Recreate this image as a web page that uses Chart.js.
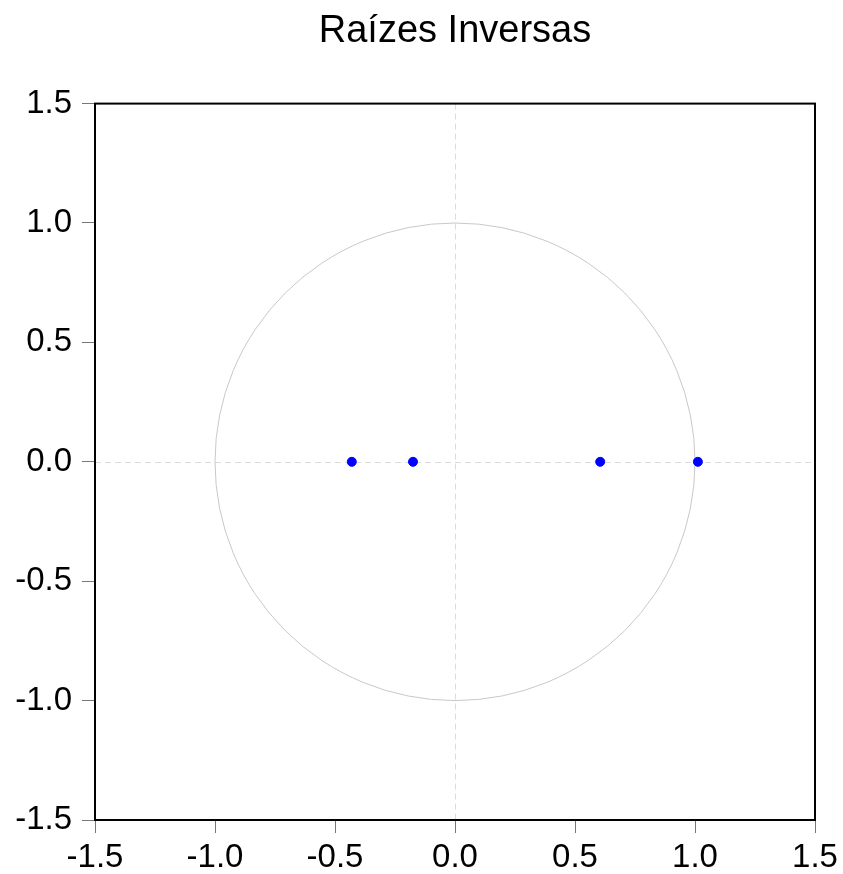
<!DOCTYPE html>
<html>
<head>
<meta charset="utf-8">
<script src="https://cdn.jsdelivr.net/npm/chart.js@4/dist/chart.umd.min.js"></script>
<style>
  body { margin: 0; background: #fff; }
  #wrap { width: 843px; height: 874px; }
</style>
</head>
<body>
<div id="wrap"><canvas id="rootsChart"></canvas></div>
<script>
  // inverse roots (real, imaginary)
  const rootsReal = [-0.43, -0.175, 0.605, 1.012];
  const rootsImag = [0, 0, 0, 0];
  const tickValues = [-1.5, -1.0, -0.5, 0.0, 0.5, 1.0, 1.5];
  const unitRadius = [1];

  const fontFamily = '"Liberation Sans", Arial, sans-serif';

  // unit circle, zero lines and frame
  const decorPlugin = {
    id: 'decor',
    beforeDatasetsDraw(chart) {
      const ctx = chart.ctx;
      const xs = chart.scales.x, ys = chart.scales.y;
      const area = chart.chartArea;
      const cx = xs.getPixelForValue(0), cy = ys.getPixelForValue(0);

      ctx.save();
      ctx.strokeStyle = '#dcdcdc';
      ctx.lineWidth = 1;
      ctx.setLineDash([6, 4]);
      ctx.beginPath();
      ctx.moveTo(Math.round(cx) + 0.5, area.top);
      ctx.lineTo(Math.round(cx) + 0.5, area.bottom);
      ctx.moveTo(area.left, Math.round(cy) + 0.5);
      ctx.lineTo(area.right, Math.round(cy) + 0.5);
      ctx.stroke();
      ctx.setLineDash([]);

      unitRadius.forEach(r => {
        const rx = xs.getPixelForValue(r) - cx;
        const ry = cy - ys.getPixelForValue(r);
        ctx.strokeStyle = '#c8c8c8';
        ctx.beginPath();
        ctx.ellipse(cx, cy, rx, ry, 0, 0, Math.PI * 2);
        ctx.stroke();
      });
      ctx.restore();
    },
    afterDraw(chart) {
      const ctx = chart.ctx;
      const a = chart.chartArea;
      ctx.save();
      ctx.strokeStyle = '#000';
      ctx.lineWidth = 2;
      ctx.strokeRect(a.left, a.top, a.right - a.left, a.bottom - a.top);
      ctx.restore();
    }
  };

  const axisCommon = {
    type: 'linear',
    min: -1.5,
    max: 1.5,
    border: { display: false },
    grid: {
      drawOnChartArea: false,
      drawTicks: true,
      tickLength: 13,
      tickColor: '#777',
      tickWidth: 1
    },
    afterBuildTicks(scale) {
      scale.ticks = tickValues.map(v => ({ value: v }));
    }
  };

  new Chart(document.getElementById('rootsChart'), {
    type: 'scatter',
    data: {
      datasets: [{
        data: rootsReal.map((x, i) => ({ x: x, y: rootsImag[i] })),
        backgroundColor: '#0000ff',
        borderColor: '#0000ff',
        pointRadius: 4.5,
        pointHoverRadius: 4.5
      }]
    },
    options: {
      responsive: true,
      maintainAspectRatio: false,
      animation: false,
      layout: { padding: { left: 0, right: 28, bottom: 0, top: 0 } },
      plugins: {
        legend: { display: false },
        tooltip: { enabled: false },
        title: {
          display: true,
          fullSize: false,
          text: 'Raízes Inversas',
          color: '#000',
          font: { family: fontFamily, size: 38, weight: 'normal', lineHeight: 1.2 },
          padding: { top: 9, bottom: 49 }
        }
      },
      scales: {
        x: Object.assign({}, axisCommon, {
          position: 'bottom',
          ticks: {
            color: '#000',
            padding: 5,
            maxRotation: 0,
            font: { family: fontFamily, size: 33 },
            callback: v => v.toFixed(1)
          },
          afterFit(scale) { scale.height = 54; }
        }),
        y: Object.assign({}, axisCommon, {
          position: 'left',
          ticks: {
            color: '#000',
            padding: 10,
            font: { family: fontFamily, size: 33 },
            callback: v => v.toFixed(1)
          },
          afterFit(scale) { scale.width = 95; }
        })
      }
    },
    plugins: [decorPlugin]
  });
</script>
</body>
</html>
